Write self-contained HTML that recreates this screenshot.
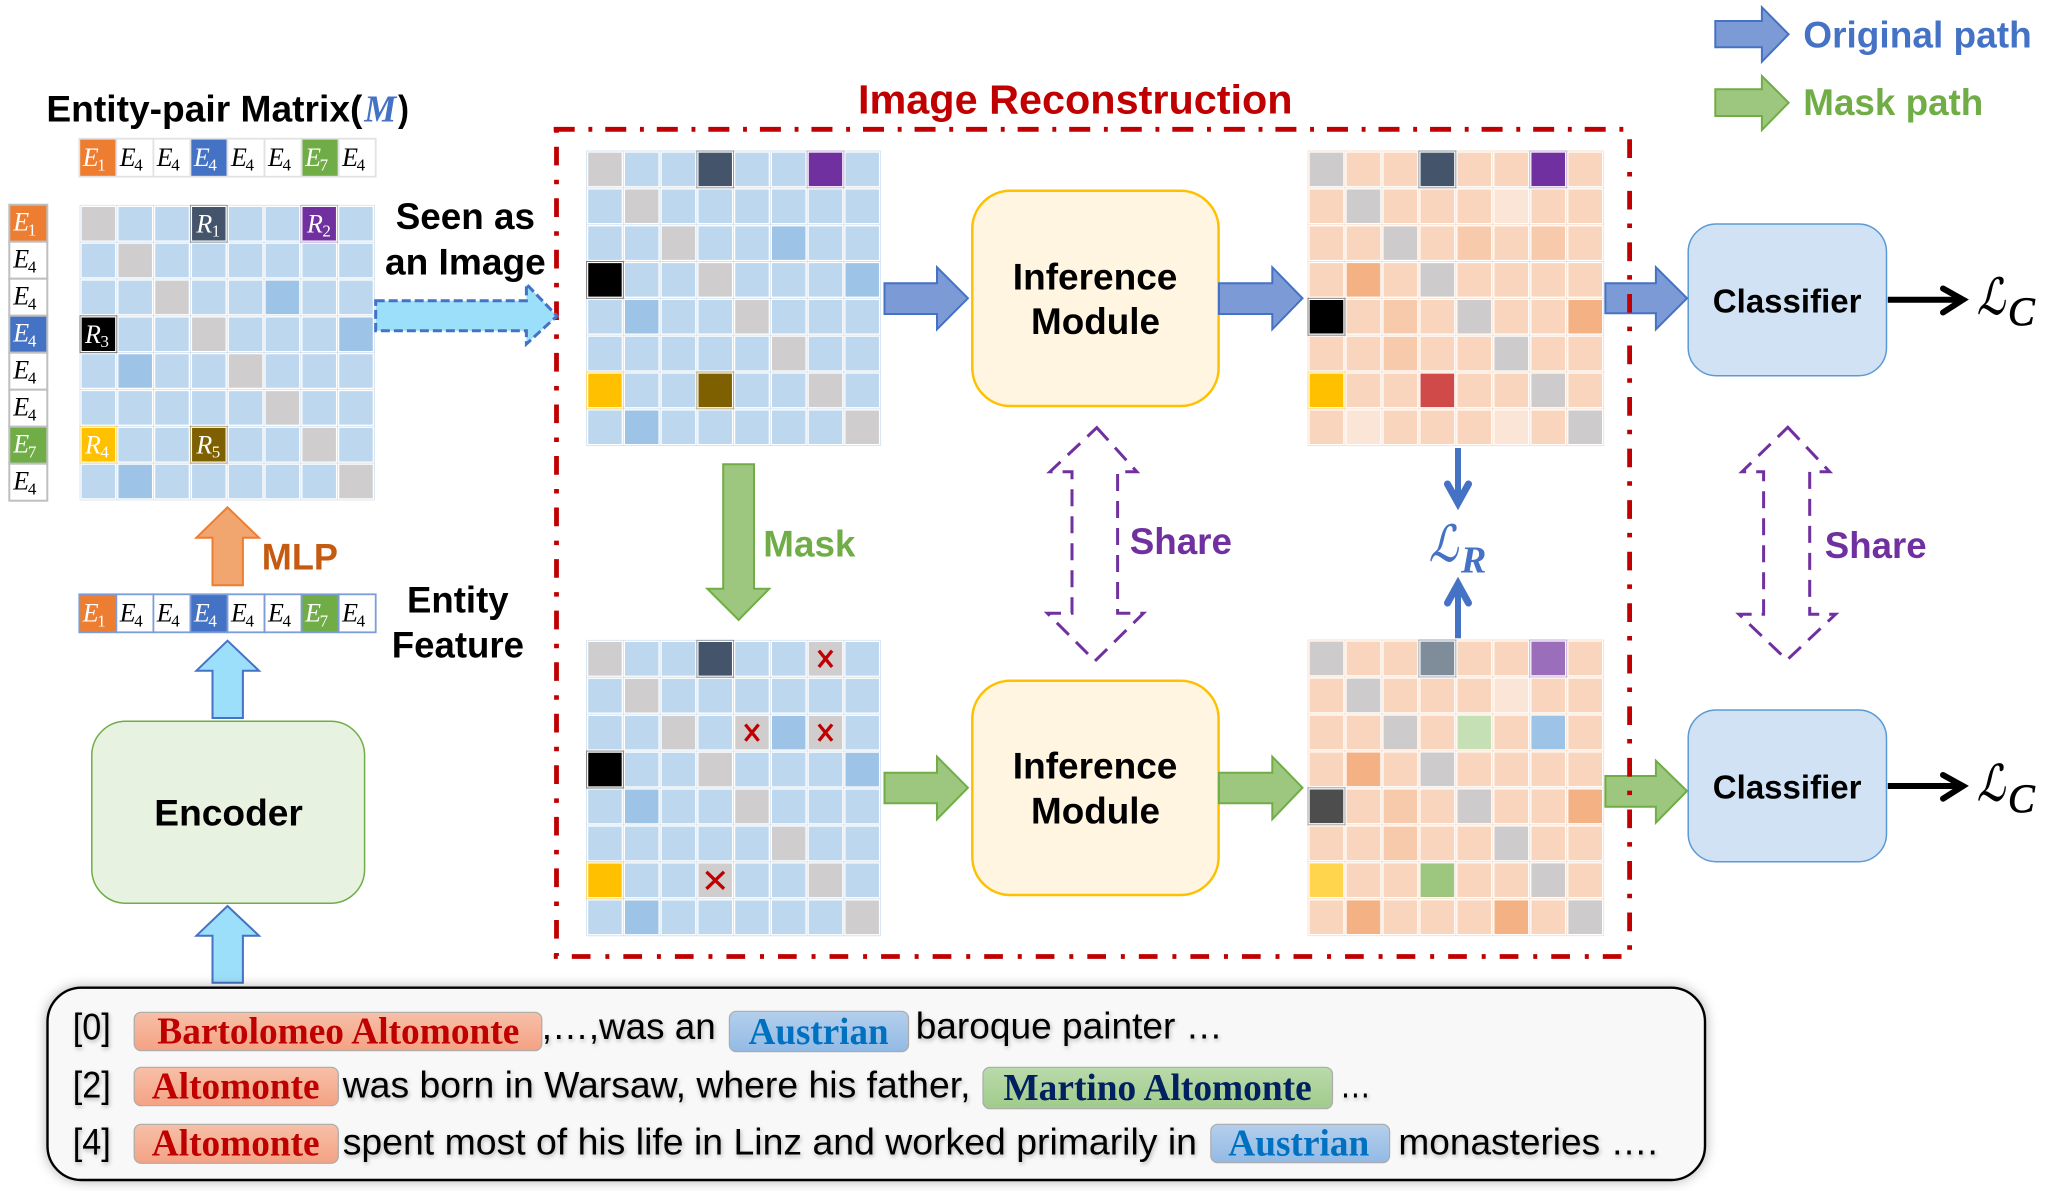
<!DOCTYPE html>
<html><head><meta charset="utf-8"><title>Diagram</title>
<style>
html,body{margin:0;padding:0;background:#fff}
svg{display:block}
text{font-family:"Liberation Sans",sans-serif;white-space:pre}
.b{font-weight:700;font-size:37.5px;fill:#000}
.e{font-family:"Liberation Serif",serif;font-style:italic;font-size:26px}
.s{font-family:"Liberation Serif",serif;font-style:normal;font-size:17px}
.t{font-size:37.5px;fill:#000}
.p{font-family:"Liberation Serif",serif;font-weight:700;font-size:38px}
.m{font-family:"DejaVu Serif","Liberation Serif",serif;font-style:italic}
</style></head><body>
<svg xmlns="http://www.w3.org/2000/svg" width="2056" height="1191" viewBox="0 0 2056 1191">
<defs>
<linearGradient id="gr" x1="0" y1="0" x2="0" y2="1"><stop offset="0" stop-color="#F7C0A8"/><stop offset="1" stop-color="#F4A284"/></linearGradient>
<linearGradient id="gb" x1="0" y1="0" x2="0" y2="1"><stop offset="0" stop-color="#B4CFEC"/><stop offset="1" stop-color="#93BAE4"/></linearGradient>
<linearGradient id="gg" x1="0" y1="0" x2="0" y2="1"><stop offset="0" stop-color="#BADAAB"/><stop offset="1" stop-color="#A0CB8A"/></linearGradient>
<filter id="sh" x="-5%" y="-20%" width="110%" height="140%"><feDropShadow dx="0" dy="0" stdDeviation="6" flood-color="#000" flood-opacity=".3"/></filter>
<filter id="ts" x="-5%" y="-30%" width="110%" height="160%"><feDropShadow dx="1" dy="2" stdDeviation="2" flood-color="#000" flood-opacity=".28"/></filter>
<path id="d" d="M0 0h1v1h-1zM1 1h1v1h-1zM2 2h1v1h-1zM3 3h1v1h-1zM4 4h1v1h-1zM5 5h1v1h-1zM6 6h1v1h-1zM7 7h1v1h-1z"/>
<path id="gl" fill="none" d="M0 0V8M1 0V8M2 0V8M3 0V8M4 0V8M5 0V8M6 0V8M7 0V8M8 0V8M0 0H8M0 1H8M0 2H8M0 3H8M0 4H8M0 5H8M0 6H8M0 7H8M0 8H8"/>
<g id="bgrid"><use href="#gl" stroke="#fff" stroke-width=".09"/><use href="#gl" stroke="#D5E3F0" stroke-width=".025"/></g>
<g id="ogrid"><use href="#gl" stroke="#fff" stroke-width=".09"/><use href="#gl" stroke="#F9DFCE" stroke-width=".025"/></g>
<g id="ol" fill="none" stroke-width=".025">
<path stroke="#8894A2" d="M3 0h1v1h-1z"/><path stroke="#C3ABD9" d="M6 0h1v1h-1z"/><path stroke="#777" d="M0 3h1v1h-1z"/><path stroke="#FFD966" d="M0 6h1v1h-1z"/><path stroke="#B3A26E" d="M3 6h1v1h-1z"/>
</g>
<g id="bm">
<rect width="8" height="8" fill="#BDD7EE"/>
<use href="#d" fill="#CFCDCD"/>
<path fill="#9DC3E6" d="M5 2h1v1h-1zM7 3h1v1h-1zM1 4h1v1h-1zM1 7h1v1h-1z"/>
<path fill="#44546A" d="M3 0h1v1h-1z"/><path fill="#7030A0" d="M6 0h1v1h-1z"/><path fill="#000" d="M0 3h1v1h-1z"/><path fill="#FFC000" d="M0 6h1v1h-1z"/><path fill="#7F6000" d="M3 6h1v1h-1z"/>
<use href="#bgrid"/><use href="#ol"/>
</g>
<g id="er">
<rect x="0" y="0" width="37.05" height="38" fill="#ED7D31"/>
<rect x="37.05" y="0" width="37.05" height="38" fill="#fff"/>
<rect x="74.1" y="0" width="37.05" height="38" fill="#fff"/>
<rect x="111.15" y="0" width="37.05" height="38" fill="#4472C4"/>
<rect x="148.2" y="0" width="37.05" height="38" fill="#fff"/>
<rect x="185.25" y="0" width="37.05" height="38" fill="#fff"/>
<rect x="222.3" y="0" width="37.05" height="38" fill="#70AD47"/>
<rect x="259.35" y="0" width="37.05" height="38" fill="#fff"/>
<g stroke="none">
<text class="e" x="3.5" y="27.3" fill="#fff">E<tspan class="s" x="18" dy="4.7">1</tspan></text>
<text class="e" x="40.5" y="27.3" fill="#000">E<tspan class="s" x="55" dy="4.7">4</tspan></text>
<text class="e" x="77.5" y="27.3" fill="#000">E<tspan class="s" x="92" dy="4.7">4</tspan></text>
<text class="e" x="114.6" y="27.3" fill="#fff">E<tspan class="s" x="129.1" dy="4.7">4</tspan></text>
<text class="e" x="151.7" y="27.3" fill="#000">E<tspan class="s" x="166.2" dy="4.7">4</tspan></text>
<text class="e" x="188.7" y="27.3" fill="#000">E<tspan class="s" x="203.2" dy="4.7">4</tspan></text>
<text class="e" x="225.8" y="27.3" fill="#fff">E<tspan class="s" x="240.3" dy="4.7">7</tspan></text>
<text class="e" x="262.8" y="27.3" fill="#000">E<tspan class="s" x="277.3" dy="4.7">4</tspan></text>
</g>
</g>
</defs>

<!-- legend -->
<polygon points="1715.3,21 1761.9,21 1761.9,7.3 1788.6,34.3 1761.9,61.7 1761.9,47.3 1715.3,47.3" fill="#7C9BD6" stroke="#4472C4" stroke-width="2"/>
<polygon points="1715.3,89.3 1761.9,89.3 1761.9,76 1788.6,102.7 1761.9,130 1761.9,116 1715.3,116" fill="#9DC67E" stroke="#70AD47" stroke-width="2"/>
<text class="b" x="1803.3" y="47.3" textLength="228.4" lengthAdjust="spacingAndGlyphs" style="fill:#4472C4">Original path</text>
<text class="b" x="1803.3" y="115" textLength="180" lengthAdjust="spacingAndGlyphs" style="fill:#70AD47">Mask path</text>

<!-- title -->
<text class="b" x="46.4" y="121.7" textLength="316" lengthAdjust="spacingAndGlyphs">Entity-pair Matrix(</text>
<text x="364.3" y="121.7" textLength="32" lengthAdjust="spacingAndGlyphs" style="font-family:'Liberation Serif',serif;font-style:italic;font-weight:700;font-size:38px;fill:#4472C4">M</text>
<text class="b" x="398" y="121.7" textLength="11" lengthAdjust="spacingAndGlyphs">)</text>
<use href="#er" x="79.3" y="138.7" stroke="#E2E2E2" stroke-width="1.8"/>

<!-- left column -->
<g stroke="#BFBFBF" stroke-width="2">
<rect x="9.3" y="204.7" width="38" height="37" fill="#ED7D31"/>
<rect x="9.3" y="241.7" width="38" height="37" fill="#fff"/>
<rect x="9.3" y="278.7" width="38" height="37" fill="#fff"/>
<rect x="9.3" y="315.7" width="38" height="37" fill="#4472C4"/>
<rect x="9.3" y="352.7" width="38" height="37" fill="#fff"/>
<rect x="9.3" y="389.7" width="38" height="37" fill="#fff"/>
<rect x="9.3" y="426.7" width="38" height="37" fill="#70AD47"/>
<rect x="9.3" y="463.7" width="38" height="37" fill="#fff"/>
</g>
<text class="e" x="13.2" y="230.7" fill="#fff">E<tspan class="s" x="27.9" dy="5">1</tspan></text>
<text class="e" x="13.2" y="267.7">E<tspan class="s" x="27.9" dy="5">4</tspan></text>
<text class="e" x="13.2" y="304.7">E<tspan class="s" x="27.9" dy="5">4</tspan></text>
<text class="e" x="13.2" y="341.7" fill="#fff">E<tspan class="s" x="27.9" dy="5">4</tspan></text>
<text class="e" x="13.2" y="378.7">E<tspan class="s" x="27.9" dy="5">4</tspan></text>
<text class="e" x="13.2" y="415.7">E<tspan class="s" x="27.9" dy="5">4</tspan></text>
<text class="e" x="13.2" y="452.7" fill="#fff">E<tspan class="s" x="27.9" dy="5">7</tspan></text>
<text class="e" x="13.2" y="489.7">E<tspan class="s" x="27.9" dy="5">4</tspan></text>

<!-- M0 -->
<g transform="translate(80,205.3) scale(36.8,36.83)"><use href="#bm"/></g>
<g fill="#fff">
<text class="e" x="196.4" y="232.3">R<tspan class="s" x="211.8" dy="4.4">1</tspan></text>
<text class="e" x="307" y="232.3">R<tspan class="s" x="322.4" dy="4.4">2</tspan></text>
<text class="e" x="85" y="342.8">R<tspan class="s" x="100.4" dy="4.4">3</tspan></text>
<text class="e" x="85" y="453.3">R<tspan class="s" x="100.4" dy="4.4">4</tspan></text>
<text class="e" x="196.4" y="453.3">R<tspan class="s" x="211.8" dy="4.4">5</tspan></text>
</g>

<text class="b" x="395.7" y="229" textLength="139.3" lengthAdjust="spacingAndGlyphs">Seen as</text>
<text class="b" x="385" y="274.3" textLength="160.7" lengthAdjust="spacingAndGlyphs">an Image</text>

<!-- MLP -->
<polygon points="227.5,507.3 259,537.7 242.9,537.7 242.9,585.3 212.5,585.3 212.5,537.7 196.4,537.7" fill="#F1A56F" stroke="#ED7D31" stroke-width="2"/>
<text class="b" x="261.8" y="569.3" textLength="76.2" lengthAdjust="spacingAndGlyphs" style="fill:#C55A11">MLP</text>
<use href="#er" x="79.3" y="594.3" stroke="#7C9DD8" stroke-width="1.8"/>
<text class="b" x="407" y="612.7" textLength="101.6" lengthAdjust="spacingAndGlyphs">Entity</text>
<text class="b" x="391.8" y="657.3" textLength="132.2" lengthAdjust="spacingAndGlyphs">Feature</text>
<polygon points="227.5,640.7 259,670.7 242.9,670.7 242.9,718 212.5,718 212.5,670.7 196.4,670.7" fill="#9BDFFA" stroke="#4472C4" stroke-width="2"/>
<rect x="91.8" y="721.3" width="272.8" height="182" rx="34" fill="#E7F2E0" stroke="#70AD47" stroke-width="1.5"/>
<text class="b" x="154.3" y="825.3" textLength="148.6" lengthAdjust="spacingAndGlyphs">Encoder</text>
<polygon points="227.5,906 259,935.7 242.9,935.7 242.9,982.7 212.5,982.7 212.5,935.7 196.4,935.7" fill="#9BDFFA" stroke="#4472C4" stroke-width="2"/>

<!-- Image Reconstruction -->
<text class="b" x="858" y="113.3" textLength="434.6" lengthAdjust="spacingAndGlyphs" style="fill:#C00000;font-size:41px">Image Reconstruction</text>

<!-- M1 -->
<g transform="translate(586.6,151) scale(36.75,36.83)"><use href="#bm"/></g>

<!-- M2 -->
<g transform="translate(1308,151) scale(36.96,36.83)">
<rect width="8" height="8" fill="#F8D5BC"/>
<use href="#d" fill="#CDCBCB"/>
<path fill="#FBE5D6" d="M5 1h1v1h-1zM1 7h1v1h-1zM5 7h1v1h-1z"/>
<path fill="#F8CAAC" d="M4 2h1v1h-1zM6 2h1v1h-1zM2 4h1v1h-1zM2 5h1v1h-1z"/>
<path fill="#F4B183" d="M1 3h1v1h-1zM7 4h1v1h-1z"/>
<path fill="#44546A" d="M3 0h1v1h-1z"/><path fill="#7030A0" d="M6 0h1v1h-1z"/><path fill="#000" d="M0 4h1v1h-1z"/><path fill="#FFC000" d="M0 6h1v1h-1z"/><path fill="#D04A4A" d="M3 6h1v1h-1z"/>
<use href="#ogrid"/>
<g fill="none" stroke-width=".025"><path stroke="#8894A2" d="M3 0h1v1h-1z"/><path stroke="#C3ABD9" d="M6 0h1v1h-1z"/><path stroke="#777" d="M0 4h1v1h-1z"/><path stroke="#FFD966" d="M0 6h1v1h-1z"/></g>
</g>

<!-- M3 -->
<g transform="translate(586.6,640.3) scale(36.75,36.93)">
<rect width="8" height="8" fill="#BDD7EE"/>
<use href="#d" fill="#CFCDCD"/>
<path fill="#CFCDCD" d="M6 0h1v1h-1zM4 2h1v1h-1zM6 2h1v1h-1zM3 6h1v1h-1z"/>
<path fill="#9DC3E6" d="M5 2h1v1h-1zM7 3h1v1h-1zM1 4h1v1h-1zM1 7h1v1h-1z"/>
<path fill="#44546A" d="M3 0h1v1h-1z"/><path fill="#000" d="M0 3h1v1h-1z"/><path fill="#FFC000" d="M0 6h1v1h-1z"/>
<use href="#bgrid"/>
<g fill="none" stroke-width=".025"><path stroke="#8894A2" d="M3 0h1v1h-1z"/><path stroke="#777" d="M0 3h1v1h-1z"/><path stroke="#FFD966" d="M0 6h1v1h-1z"/></g>
<path fill="none" stroke="#C00000" stroke-width=".09" d="M6.32 .28L6.68 .72M6.68 .28L6.32 .72M4.32 2.28L4.68 2.72M4.68 2.28L4.32 2.72M6.32 2.28L6.68 2.72M6.68 2.28L6.32 2.72M3.26 6.27L3.74 6.73M3.74 6.27L3.26 6.73"/>
</g>

<!-- M4 -->
<g transform="translate(1308,640) scale(36.96,36.96)">
<rect width="8" height="8" fill="#F8D5BC"/>
<use href="#d" fill="#CDCBCB"/>
<path fill="#FBE5D6" d="M5 1h1v1h-1z"/>
<path fill="#F8CAAC" d="M2 4h1v1h-1zM2 5h1v1h-1z"/>
<path fill="#F4B183" d="M1 3h1v1h-1zM7 4h1v1h-1zM1 7h1v1h-1zM5 7h1v1h-1z"/>
<path fill="#C5E0B4" d="M4 2h1v1h-1z"/><path fill="#9DC3E6" d="M6 2h1v1h-1z"/>
<path fill="#7F8C99" d="M3 0h1v1h-1z"/><path fill="#9B6EBC" d="M6 0h1v1h-1z"/><path fill="#4D4D4D" d="M0 4h1v1h-1z"/><path fill="#FFD54D" d="M0 6h1v1h-1z"/><path fill="#9DC67E" d="M3 6h1v1h-1z"/>
<use href="#ogrid"/>
<g fill="none" stroke-width=".025"><path stroke="#9AA5B0" d="M3 0h1v1h-1z"/><path stroke="#C3ABD9" d="M6 0h1v1h-1z"/><path stroke="#999" d="M0 4h1v1h-1z"/></g>
</g>

<!-- inference -->
<rect x="972.3" y="190.7" width="246.3" height="215.3" rx="38" fill="#FFF5E0" stroke="#FFC000" stroke-width="2.5"/>
<rect x="972.3" y="680.7" width="246.3" height="214.3" rx="38" fill="#FFF5E0" stroke="#FFC000" stroke-width="2.5"/>
<text class="b" x="1012.8" y="289.3" textLength="164.6" lengthAdjust="spacingAndGlyphs">Inference</text>
<text class="b" x="1031" y="334" textLength="129" lengthAdjust="spacingAndGlyphs">Module</text>
<text class="b" x="1012.8" y="778.3" textLength="164.6" lengthAdjust="spacingAndGlyphs">Inference</text>
<text class="b" x="1031" y="823.3" textLength="129" lengthAdjust="spacingAndGlyphs">Module</text>

<!-- classifier -->
<rect x="1688.2" y="224" width="198.3" height="151.7" rx="28" fill="#D0E2F3" stroke="#5B9BD5" stroke-width="1.5"/>
<rect x="1688.2" y="710" width="198.3" height="151.7" rx="28" fill="#D0E2F3" stroke="#5B9BD5" stroke-width="1.5"/>
<text class="b" x="1712.8" y="312.3" textLength="148.7" lengthAdjust="spacingAndGlyphs" style="font-size:33.5px">Classifier</text>
<text class="b" x="1712.8" y="798.3" textLength="148.7" lengthAdjust="spacingAndGlyphs" style="font-size:33.5px">Classifier</text>

<!-- blue arrows -->
<g fill="#7C9BD6" stroke="#4472C4" stroke-width="2">
<polygon points="884.5,283.3 937,283.3 937,267.3 967.9,298.3 937,329.3 937,314 884.5,314"/>
<polygon points="1219,283.3 1272.3,283.3 1272.3,267.3 1302.5,298.3 1272.3,329.3 1272.3,314 1219,314"/>
<polygon points="1605.4,283.3 1655.9,283.3 1655.9,267.3 1687,298.3 1655.9,329.3 1655.9,313.3 1605.4,313.3"/>
</g>
<!-- green arrows -->
<g fill="#9DC67E" stroke="#70AD47" stroke-width="2">
<polygon points="723.2,464.3 754,464.3 754,588.7 769.3,588.7 738.6,620 707.3,588.7 723.2,588.7"/>
<polygon points="884.5,772.7 937,772.7 937,756.7 967.9,787.7 937,819.3 937,803.3 884.5,803.3"/>
<polygon points="1219,772.7 1272.3,772.7 1272.3,756.7 1302.5,787.7 1272.3,819.3 1272.3,803.3 1219,803.3"/>
<polygon points="1605.4,776 1655.9,776 1655.9,760.7 1687,791 1655.9,822.7 1655.9,806.7 1605.4,806.7"/>
</g>
<text class="b" x="763.3" y="556.7" textLength="92.1" lengthAdjust="spacingAndGlyphs" style="fill:#70AD47">Mask</text>

<!-- red dashed box -->
<g stroke="#C00000" stroke-width="4.8" fill="none">
<line x1="553.7" y1="129.3" x2="1627" y2="129.3" stroke-dasharray="21 13.7 3.9 12.95"/>
<line x1="553.8" y1="956.5" x2="1627" y2="956.5" stroke-dasharray="4 14 18.7 14.85"/>
<line x1="556.5" y1="128.2" x2="556.5" y2="956" stroke-dasharray="4.5 14 18.7 14.35"/>
<line x1="1629.6" y1="139.3" x2="1629.6" y2="952" stroke-dasharray="18.7 14 4.5 14.35"/>
</g>

<!-- dashed arrow -->
<polygon points="375.7,300.7 526.4,300.7 526.4,284 557,316 526.4,344 526.4,330.7 375.7,330.7" fill="#9BDFFA" stroke="#4472C4" stroke-width="3" stroke-dasharray="9 4"/>

<!-- share arrows -->
<g fill="none" stroke="#7030A0" stroke-width="3" stroke-dasharray="17 10">
<polygon points="1096.8,427.7 1136.8,471.7 1117.6,471.7 1117.6,613.3 1143.4,613.3 1095,661 1047.4,613.3 1072,613.3 1072,471.7 1050,471.7"/>
<polygon points="1787.8,427.3 1829.6,471.7 1809.7,471.7 1809.7,614.3 1835.6,614.3 1787,660 1739,614.3 1763.6,614.3 1763.6,471.7 1742,471.7"/>
</g>
<text class="b" x="1129.7" y="554" textLength="102.3" lengthAdjust="spacingAndGlyphs" style="fill:#7030A0">Share</text>
<text class="b" x="1824.8" y="558" textLength="101.8" lengthAdjust="spacingAndGlyphs" style="fill:#7030A0">Share</text>

<!-- loss R -->
<g fill="none" stroke="#4472C4" stroke-width="6" stroke-linecap="round" stroke-linejoin="miter">
<line x1="1458" y1="448" x2="1458" y2="502" stroke-linecap="butt"/>
<polyline points="1447.5,484 1458,503 1468.5,484" stroke-width="7"/>
<line x1="1458" y1="638.3" x2="1458" y2="585" stroke-linecap="butt"/>
<polyline points="1447.5,603 1458,584 1468.5,603" stroke-width="7"/>
</g>
<text class="m" x="1429" y="561" font-size="50" fill="#4472C4" stroke="#4472C4" stroke-width=".5" textLength="29" lengthAdjust="spacingAndGlyphs">ℒ</text>
<text x="1461" y="572.3" style="font-family:'Liberation Serif',serif;font-style:italic;font-weight:700;font-size:38px;fill:#4472C4">R</text>

<!-- loss C -->
<g fill="none" stroke="#000" stroke-width="6">
<line x1="1887.8" y1="299.7" x2="1962" y2="299.7"/>
<polyline points="1943,288.5 1963,299.7 1943,312.5" stroke-linecap="round"/>
<line x1="1887.8" y1="786" x2="1962" y2="786"/>
<polyline points="1943,775 1963,786 1943,798.7" stroke-linecap="round"/>
</g>
<text class="m" x="1977" y="314" font-size="50" fill="#000" stroke="#000" stroke-width=".5" textLength="28" lengthAdjust="spacingAndGlyphs">ℒ</text>
<text x="2008" y="325" style="font-family:'Liberation Serif',serif;font-style:italic;font-weight:400;font-size:40px;fill:#000;stroke:#000;stroke-width:.8px">C</text>
<text class="m" x="1977" y="800.7" font-size="50" fill="#000" stroke="#000" stroke-width=".5" textLength="28" lengthAdjust="spacingAndGlyphs">ℒ</text>
<text x="2008" y="812" style="font-family:'Liberation Serif',serif;font-style:italic;font-weight:400;font-size:40px;fill:#000;stroke:#000;stroke-width:.8px">C</text>

<!-- text box -->
<rect x="47.5" y="987.7" width="1657.5" height="192.3" rx="34" fill="#F8F8F8" stroke="#000" stroke-width="2.4" filter="url(#sh)"/>
<g stroke="#ABABAB" stroke-width="1.2">
<rect x="134.2" y="1012.3" width="407.6" height="38.4" rx="7" fill="url(#gr)"/>
<rect x="729.4" y="1011.3" width="179.1" height="40.4" rx="7" fill="url(#gb)"/>
<rect x="134.2" y="1067.3" width="204.1" height="38.4" rx="7" fill="url(#gr)"/>
<rect x="983" y="1067.3" width="349.5" height="41.4" rx="7" fill="url(#gg)"/>
<rect x="134.2" y="1124.3" width="204.1" height="39" rx="7" fill="url(#gr)"/>
<rect x="1210.8" y="1124.3" width="178.8" height="38.4" rx="7" fill="url(#gb)"/>
</g>
<g filter="url(#ts)">
<text class="t" x="72.8" y="1039.3" textLength="38" lengthAdjust="spacingAndGlyphs">[0]</text>
<text class="t" x="72.8" y="1097.3" textLength="38" lengthAdjust="spacingAndGlyphs">[2]</text>
<text class="t" x="72.8" y="1154.3" textLength="38" lengthAdjust="spacingAndGlyphs">[4]</text>
<text class="t" x="541.8" y="1039" textLength="173.9" lengthAdjust="spacingAndGlyphs">,…,was an</text>
<text class="t" x="915.7" y="1038.3" textLength="307" lengthAdjust="spacingAndGlyphs">baroque painter …</text>
<text class="t" x="342.7" y="1097.3" textLength="627.8" lengthAdjust="spacingAndGlyphs">was born in Warsaw, where his father,</text>
<text class="t" x="1339.7" y="1097.3" textLength="31.3" lengthAdjust="spacingAndGlyphs">…</text>
<text class="t" x="342.7" y="1154.3" textLength="854.3" lengthAdjust="spacingAndGlyphs">spent most of his life in Linz and worked primarily in</text>
<text class="t" x="1398.4" y="1154.3" textLength="259.4" lengthAdjust="spacingAndGlyphs">monasteries ….</text>
</g>
<text class="p" x="157.3" y="1043.3" fill="#C00000" textLength="362" lengthAdjust="spacingAndGlyphs">Bartolomeo Altomonte</text>
<text class="p" x="748.6" y="1044" fill="#0070C0" textLength="140" lengthAdjust="spacingAndGlyphs">Austrian</text>
<text class="p" x="151.8" y="1098.7" fill="#C00000" textLength="167.8" lengthAdjust="spacingAndGlyphs">Altomonte</text>
<text class="p" x="1003.4" y="1100" fill="#002060" textLength="308.3" lengthAdjust="spacingAndGlyphs">Martino Altomonte</text>
<text class="p" x="151.8" y="1155.3" fill="#C00000" textLength="167.8" lengthAdjust="spacingAndGlyphs">Altomonte</text>
<text class="p" x="1228.3" y="1155.3" fill="#0070C0" textLength="141" lengthAdjust="spacingAndGlyphs">Austrian</text>
</svg>
</body></html>
